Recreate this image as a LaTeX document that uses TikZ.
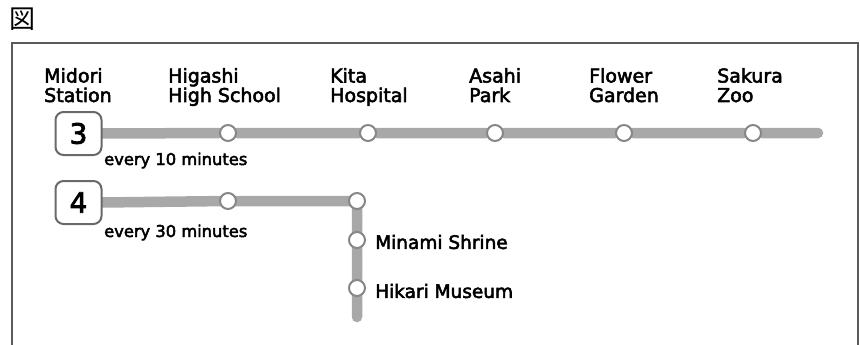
\documentclass[tikz,border=0pt]{standalone}
\usepackage{fontspec}
\setmainfont{DejaVu Sans}[FakeBold=2.8]
\newfontfamily\cjk{Noto Sans CJK JP}
\pgfdeclarelayer{background}
\pgfsetlayers{background,main}
\definecolor{railgray}{RGB}{168,168,168}
\definecolor{ringgray}{RGB}{135,135,135}
\definecolor{boxgray}{RGB}{105,105,105}
\definecolor{framegray}{RGB}{90,90,90}
\tikzset{
  rail/.style={draw=railgray, line width=10.5pt, line cap=round, line join=miter},
  stop/.style={circle, draw=ringgray, line width=2pt, fill=white, minimum size=16pt, inner sep=0pt},
  linebox/.style={draw=boxgray, line width=2pt, rounded corners=8pt, fill=white,
    minimum width=46pt, minimum height=43pt, inner sep=0pt, font=\fontsize{28}{28}\selectfont},
  slabel/.style={anchor=base west, inner sep=0pt, align=left,
    font=\fontsize{19}{19.5}\selectfont},
  freq/.style={anchor=base west, inner sep=0pt, font=\fontsize{16.3}{18}\selectfont},
  side/.style={anchor=west, inner sep=0pt, font=\fontsize{18.5}{20}\selectfont},
}
\begin{document}
\begin{tikzpicture}[x=1pt,y=-1pt]
\useasboundingbox (0,0) rectangle (860,345);
% frame
\draw[framegray, line width=1.3pt] (12,346) -- (12,43) -- (858,43) -- (858,346);
\node[inner sep=0pt, font=\cjk\fontsize{26}{26}\selectfont] (zu) at (22.5,19) {図};
% line 3
\node[linebox] (b3) at (78.5,133.5) {3};
\node[stop] (s31) at (228,133) {};
\node[stop] (s32) at (368,133) {};
\node[stop] (s33) at (495,133) {};
\node[stop] (s34) at (624,133) {};
\node[stop] (s35) at (753,133) {};
\coordinate (e3) at (818,133);
% line 4
\node[linebox] (b4) at (78.5,202.5) {4};
\node[stop] (s41) at (228,201) {};
\node[stop] (s42) at (357,201) {};
\node[stop] (s43) at (357,240) {};
\node[stop] (s44) at (357,288) {};
\coordinate (e4) at (357,317);
\begin{pgfonlayer}{background}
\draw[rail] (b3.east) -- (s31) -- (s32) -- (s33) -- (s34) -- (s35) -- (e3);
\draw[rail] (b4.east) -- (s41.center) -- (s42.center) -- (s43.center) -- (s44.center) -- (e4);
\end{pgfonlayer}
% labels
\node[slabel] (l1) at (44,102) {Midori\\Station};
\node[slabel] (l2) at (168,102) {Higashi\\High School};
\node[slabel] (l3) at (330,102) {Kita\\Hospital};
\node[slabel] (l4) at (469,102) {Asahi\\Park};
\node[slabel] (l5) at (589,102) {Flower\\Garden};
\node[slabel] (l6) at (717,102) {Sakura\\Zoo};
\node[freq] (f3) at (104,165) {every 10 minutes};
\node[freq] (f4) at (104,237) {every 30 minutes};
\node[side] (m1) at (375,242) {Minami Shrine};
\node[side] (m2) at (375,291) {Hikari Museum};
\end{tikzpicture}
\end{document}
